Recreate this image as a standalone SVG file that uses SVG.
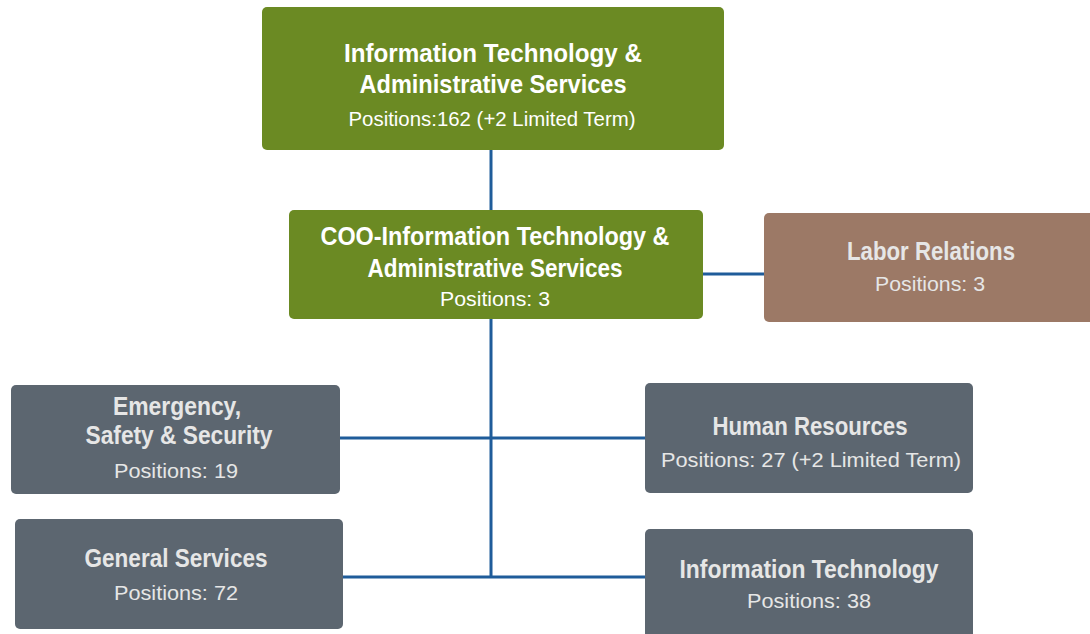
<svg xmlns="http://www.w3.org/2000/svg" width="1090" height="634" viewBox="0 0 1090 634">
<style>
.g{fill:#6b8a23}
.b{fill:#9c7966}
.s{fill:#5c6670}
.t{font-family:"Liberation Sans",Arial,sans-serif;font-weight:bold;font-size:25px;text-anchor:middle;fill:#ffffff}
.p{font-family:"Liberation Sans",Arial,sans-serif;font-size:20px;text-anchor:middle;fill:#ffffff}
.l{fill:#e6e6e6}
.c{stroke:#1f5c9a;stroke-width:3;fill:none}
</style>
<rect width="1090" height="634" fill="#ffffff"/>
<g id="connectors">
<path class="c" d="M491,150V210"/>
<path class="c" d="M491,319V577"/>
<path class="c" d="M703,274H764"/>
<path class="c" d="M340,438H645"/>
<path class="c" d="M343,577H645"/>
</g>
<g id="it-admin">
<rect class="g" x="262" y="7" width="462" height="143" rx="5"/>
<text class="t" x="493" y="62" font-size="26" textLength="298" lengthAdjust="spacingAndGlyphs">Information Technology &amp;</text>
<text class="t" x="493" y="93" font-size="26" textLength="267" lengthAdjust="spacingAndGlyphs">Administrative Services</text>
<text class="p" x="492" y="126" textLength="287" lengthAdjust="spacingAndGlyphs">Positions:162 (+2 Limited Term)</text>
</g>
<g id="coo">
<rect class="g" x="289" y="210" width="414" height="109" rx="5"/>
<text class="t" x="495" y="245" textLength="349" lengthAdjust="spacingAndGlyphs">COO-Information Technology &amp;</text>
<text class="t" x="495" y="277" textLength="255" lengthAdjust="spacingAndGlyphs">Administrative Services</text>
<text class="p" x="495" y="306" textLength="110" lengthAdjust="spacingAndGlyphs">Positions: 3</text>
</g>
<g id="labor">
<rect class="b" x="764" y="213" width="332" height="109" rx="5"/>
<text class="t l" x="931" y="260" textLength="168" lengthAdjust="spacingAndGlyphs">Labor Relations</text>
<text class="p l" x="930" y="291" textLength="110" lengthAdjust="spacingAndGlyphs">Positions: 3</text>
</g>
<g id="emergency">
<rect class="s" x="11" y="385" width="329" height="109" rx="5"/>
<text class="t l" x="177" y="415" textLength="128" lengthAdjust="spacingAndGlyphs">Emergency,</text>
<text class="t l" x="179" y="444" textLength="187" lengthAdjust="spacingAndGlyphs">Safety &amp; Security</text>
<text class="p l" x="176" y="478" textLength="124" lengthAdjust="spacingAndGlyphs">Positions: 19</text>
</g>
<g id="general">
<rect class="s" x="15" y="519" width="328" height="110" rx="5"/>
<text class="t l" x="176" y="567" textLength="183" lengthAdjust="spacingAndGlyphs">General Services</text>
<text class="p l" x="176" y="600" textLength="124" lengthAdjust="spacingAndGlyphs">Positions: 72</text>
</g>
<g id="hr">
<rect class="s" x="645" y="383" width="328" height="110" rx="5"/>
<text class="t l" x="810" y="435" textLength="195" lengthAdjust="spacingAndGlyphs">Human Resources</text>
<text class="p l" x="811" y="467" textLength="300" lengthAdjust="spacingAndGlyphs">Positions: 27 (+2 Limited Term)</text>
</g>
<g id="it">
<rect class="s" x="645" y="529" width="328" height="112" rx="5"/>
<text class="t l" x="809" y="578" textLength="259" lengthAdjust="spacingAndGlyphs">Information Technology</text>
<text class="p l" x="809" y="608" textLength="124" lengthAdjust="spacingAndGlyphs">Positions: 38</text>
</g>
</svg>
